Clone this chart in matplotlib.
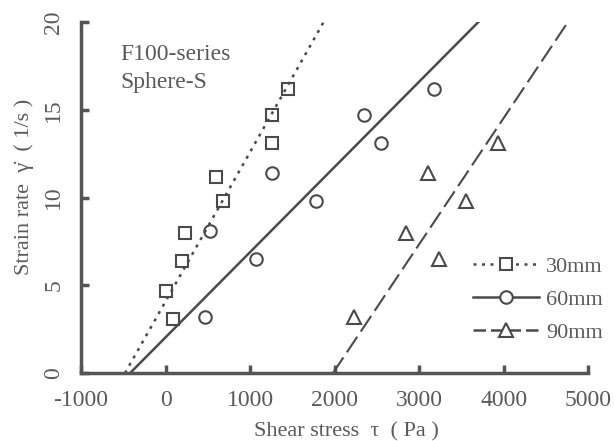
import matplotlib
matplotlib.use('Agg')
import matplotlib.pyplot as plt

plt.rcParams['font.family'] = ['Liberation Serif', 'DejaVu Serif']
plt.rcParams['axes.unicode_minus'] = False

# measured points
tau_30 = [0, 83, 200, 225, 594, 677, 1260, 1260, 1450]
rate_30 = [4.7, 3.1, 6.4, 8.0, 11.2, 9.8, 14.7, 13.1, 16.2]
tau_60 = [463, 523, 1070, 1260, 1780, 2350, 2550, 3180]
rate_60 = [3.2, 8.1, 6.5, 11.4, 9.8, 14.7, 13.1, 16.2]
tau_90 = [2230, 2850, 3240, 3110, 3550, 3930]
rate_90 = [3.2, 8.0, 6.5, 11.4, 9.8, 13.1]

# fitted lines (end points)
fit_tau_30 = [-480, 1870]
fit_tau_60 = [-420, 3700]
fit_tau_90 = [1980, 4760]
fit_rate = [0, 20]

xticks = [-1000, 0, 1000, 2000, 3000, 4000, 5000]
yticks = [0, 5, 10, 15, 20]

gray = '#4a4a4a'
txt = '#5a5a5a'
fs = 16

fig = plt.figure(figsize=(6.14, 4.41), dpi=100)
ax = fig.add_axes([0.132, 0.154, 0.826, 0.796])

ax.plot(fit_tau_30, fit_rate, color=gray, linestyle=(0, (1.2, 2.2)), linewidth=1.8)
ax.plot(fit_tau_60, fit_rate, color=gray, linestyle='-', linewidth=1.8)
ax.plot(fit_tau_90, fit_rate, color=gray, linestyle=(0, (9, 3)), linewidth=1.5)

mk = dict(markerfacecolor='none', markeredgecolor=gray, markeredgewidth=1.5, linestyle='none')
ax.plot(tau_30, rate_30, marker='s', markersize=9, **mk)
ax.plot(tau_60, rate_60, marker='o', markersize=9, **mk)
ax.plot(tau_90, rate_90, marker='^', markersize=10, **mk)

# legend handles
h30, = ax.plot([], [], color=gray, linestyle=(0, (1.2, 2.2)), linewidth=1.8,
               marker='s', markersize=9, markerfacecolor='white', markeredgecolor=gray, markeredgewidth=1.5)
h60, = ax.plot([], [], color=gray, linestyle='-', linewidth=1.8,
               marker='o', markersize=9, markerfacecolor='white', markeredgecolor=gray, markeredgewidth=1.5)
h90, = ax.plot([], [], color=gray, linestyle=(0, (5, 2)), linewidth=1.8,
               marker='^', markersize=10, markerfacecolor='white', markeredgecolor=gray, markeredgewidth=1.5)
leg = ax.legend([h30, h60, h90], ['30mm', '60mm', '90mm'], loc='lower right',
                bbox_to_anchor=(1.068, 0.03), frameon=False, fontsize=fs, numpoints=1,
                handlelength=3.0, labelspacing=0.55, handletextpad=0.3)
for t in leg.get_texts():
    t.set_color(txt)

ax.set_xlim(-1000, 5000)
ax.set_ylim(0, 20)
ax.set_xticks(xticks)
ax.set_yticks(yticks)
ax.spines['top'].set_visible(False)
ax.spines['right'].set_visible(False)
for s in ['left', 'bottom']:
    ax.spines[s].set_linewidth(2.5)
    ax.spines[s].set_color('#555555')
ax.tick_params(direction='in', length=6, width=2.5, color='#555555',
               labelsize=17, labelcolor=txt, pad=12)
plt.setp(ax.get_yticklabels(), rotation=90, va='center')

ax.text(-530, 18.75, 'F100-series\nSphere-S', fontsize=17, color=txt,
        va='top', ha='left', linespacing=1.45)

ax.set_xlabel('Shear stress  \u03c4  ( Pa )', fontsize=fs, color=txt)
ax.set_ylabel('Strain rate  \u03b3\u0307  ( 1/s )', fontsize=fs, color=txt)
ax.xaxis.set_label_coords(0.523, -0.14)
ax.yaxis.set_label_coords(-0.093, 0.53)

fig.savefig('out.png', dpi=100)
